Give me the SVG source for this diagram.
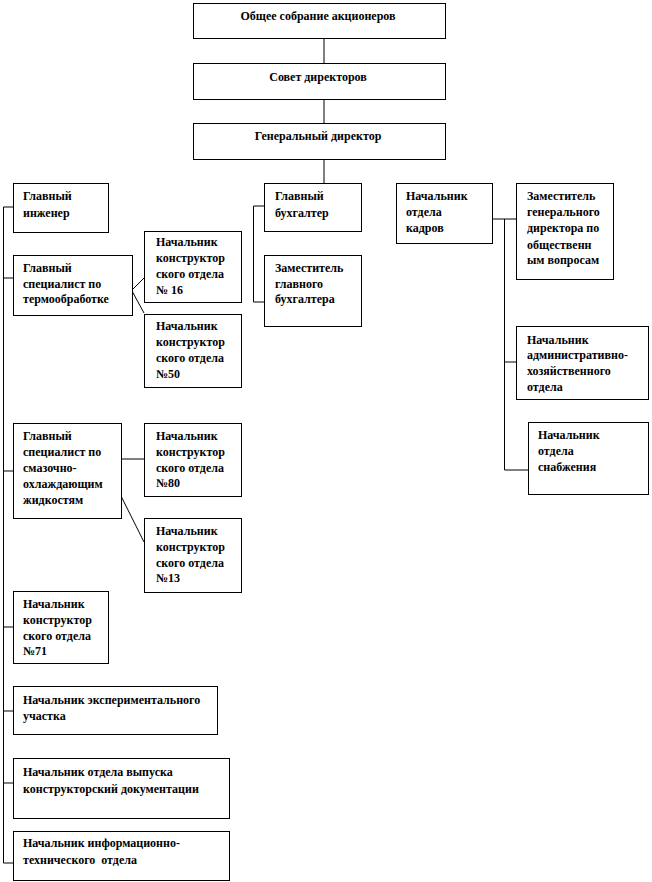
<svg xmlns="http://www.w3.org/2000/svg" width="652" height="882" viewBox="0 0 652 882">
<style>
.box{fill:#fff;stroke:#000;stroke-width:1}
.t{font-family:"Liberation Serif","Times New Roman",serif;font-weight:bold;font-size:12px;fill:#000}
.c{text-anchor:middle}
.ln{stroke:#000;stroke-width:1;fill:none}
</style>
<rect width="652" height="882" fill="#fff"/>
<g id="connectors">
<line class="ln" x1="324" y1="38" x2="324" y2="63"/>
<line class="ln" x1="324" y1="99" x2="324" y2="123"/>
<line class="ln" x1="324" y1="159" x2="324" y2="183"/>
<polyline class="ln" points="13,207 3.5,207 3.5,863 13,863"/>
<line class="ln" x1="3.5" y1="278" x2="13" y2="278"/>
<line class="ln" x1="3.5" y1="471" x2="13" y2="471"/>
<line class="ln" x1="3.5" y1="627" x2="13" y2="627"/>
<line class="ln" x1="3.5" y1="711" x2="13" y2="711"/>
<line class="ln" x1="3.5" y1="783" x2="13" y2="783"/>
<line class="ln" x1="132" y1="290" x2="144" y2="278"/>
<line class="ln" x1="132" y1="291" x2="144" y2="313"/>
<line class="ln" x1="121" y1="459" x2="144" y2="459"/>
<line class="ln" x1="121" y1="496" x2="144" y2="542"/>
<polyline class="ln" points="264,206 253.5,206 253.5,302 264,302"/>
<line class="ln" x1="492" y1="219" x2="516" y2="219"/>
<polyline class="ln" points="504.5,219 504.5,470 528,470"/>
<line class="ln" x1="504.5" y1="362" x2="516" y2="362"/>
</g>
<g id="n-sobranie"><rect class="box" x="193.5" y="3.5" width="252" height="35"/><text class="t c" x="318" y="20">Общее собрание акционеров</text></g>
<g id="n-sovet"><rect class="box" x="193.5" y="63.5" width="252" height="36"/><text class="t c" x="318" y="81">Совет директоров</text></g>
<g id="n-gendir"><rect class="box" x="193.5" y="123.5" width="252" height="36"/><text class="t c" x="318" y="140">Генеральный директор</text></g>
<g id="n-glinzh"><rect class="box" x="13.5" y="183.5" width="95" height="49"/><text class="t" x="23"><tspan x="23" y="200">Главный</tspan><tspan x="23" y="217">инженер</tspan></text></g>
<g id="n-termo"><rect class="box" x="13.5" y="255.5" width="119" height="60"/><text class="t" x="23"><tspan x="23" y="272">Главный</tspan><tspan x="23" y="288">специалист по</tspan><tspan x="23" y="303">термообработке</tspan></text></g>
<g id="n-ko16"><rect class="box" x="144.5" y="231.5" width="97" height="71"/><text class="t"><tspan x="156" y="246">Начальник</tspan><tspan x="156" y="262">конструктор</tspan><tspan x="156" y="278">ского отдела</tspan><tspan x="156" y="294">№ 16</tspan></text></g>
<g id="n-ko50"><rect class="box" x="144.5" y="314.5" width="97" height="73"/><text class="t"><tspan x="156" y="330">Начальник</tspan><tspan x="156" y="346">конструктор</tspan><tspan x="156" y="362">ского отдела</tspan><tspan x="156" y="378">№50</tspan></text></g>
<g id="n-sozh"><rect class="box" x="13.5" y="423.5" width="108" height="95"/><text class="t"><tspan x="23" y="440">Главный</tspan><tspan x="23" y="456">специалист по</tspan><tspan x="23" y="472">смазочно-</tspan><tspan x="23" y="488">охлаждающим</tspan><tspan x="23" y="504">жидкостям</tspan></text></g>
<g id="n-ko80"><rect class="box" x="144.5" y="423.5" width="97" height="73"/><text class="t"><tspan x="156" y="440">Начальник</tspan><tspan x="156" y="456">конструктор</tspan><tspan x="156" y="472">ского отдела</tspan><tspan x="156" y="487">№80</tspan></text></g>
<g id="n-ko13"><rect class="box" x="144.5" y="518.5" width="97" height="74"/><text class="t"><tspan x="156" y="535">Начальник</tspan><tspan x="156" y="551">конструктор</tspan><tspan x="156" y="567">ского отдела</tspan><tspan x="156" y="582">№13</tspan></text></g>
<g id="n-ko71"><rect class="box" x="13.5" y="591.5" width="95" height="72"/><text class="t"><tspan x="23" y="608">Начальник</tspan><tspan x="23" y="624">конструктор</tspan><tspan x="23" y="640">ского отдела</tspan><tspan x="23" y="655">№71</tspan></text></g>
<g id="n-eksp"><rect class="box" x="13.5" y="686.5" width="204" height="48"/><text class="t"><tspan x="23" y="704">Начальник экспериментального</tspan><tspan x="23" y="720">участка</tspan></text></g>
<g id="n-vypusk"><rect class="box" x="13.5" y="758.5" width="216" height="60"/><text class="t"><tspan x="23" y="776">Начальник отдела выпуска</tspan><tspan x="23" y="793">конструкторский документации</tspan></text></g>
<g id="n-infotekh"><rect class="box" x="13.5" y="831.5" width="216" height="49"/><text class="t" xml:space="preserve"><tspan x="23" y="847">Начальник информационно-</tspan><tspan x="23" y="864">технического  отдела</tspan></text></g>
<g id="n-glbuh"><rect class="box" x="264.5" y="183.5" width="97" height="48"/><text class="t"><tspan x="275" y="200">Главный</tspan><tspan x="275" y="217">бухгалтер</tspan></text></g>
<g id="n-zamglbuh"><rect class="box" x="264.5" y="255.5" width="97" height="71"/><text class="t"><tspan x="275" y="272">Заместитель</tspan><tspan x="275" y="288">главного</tspan><tspan x="275" y="303">бухгалтера</tspan></text></g>
<g id="n-kadry"><rect class="box" x="396.5" y="183.5" width="96" height="60"/><text class="t"><tspan x="406" y="200">Начальник</tspan><tspan x="406" y="216">отдела</tspan><tspan x="406" y="232">кадров</tspan></text></g>
<g id="n-zamgen"><rect class="box" x="516.5" y="183.5" width="97" height="96"/><text class="t"><tspan x="527" y="200">Заместитель</tspan><tspan x="527" y="216">генерального</tspan><tspan x="527" y="232">директора по</tspan><tspan x="527" y="249">общественн</tspan><tspan x="527" y="264">ым вопросам</tspan></text></g>
<g id="n-aho"><rect class="box" x="516.5" y="326.5" width="132" height="73"/><text class="t"><tspan x="527" y="344">Начальник</tspan><tspan x="527" y="359">административно-</tspan><tspan x="527" y="375">хозяйственного</tspan><tspan x="527" y="391">отдела</tspan></text></g>
<g id="n-snab"><rect class="box" x="528.5" y="422.5" width="120" height="72"/><text class="t"><tspan x="538" y="439">Начальник</tspan><tspan x="538" y="455">отдела</tspan><tspan x="538" y="471">снабжения</tspan></text></g>
</svg>
